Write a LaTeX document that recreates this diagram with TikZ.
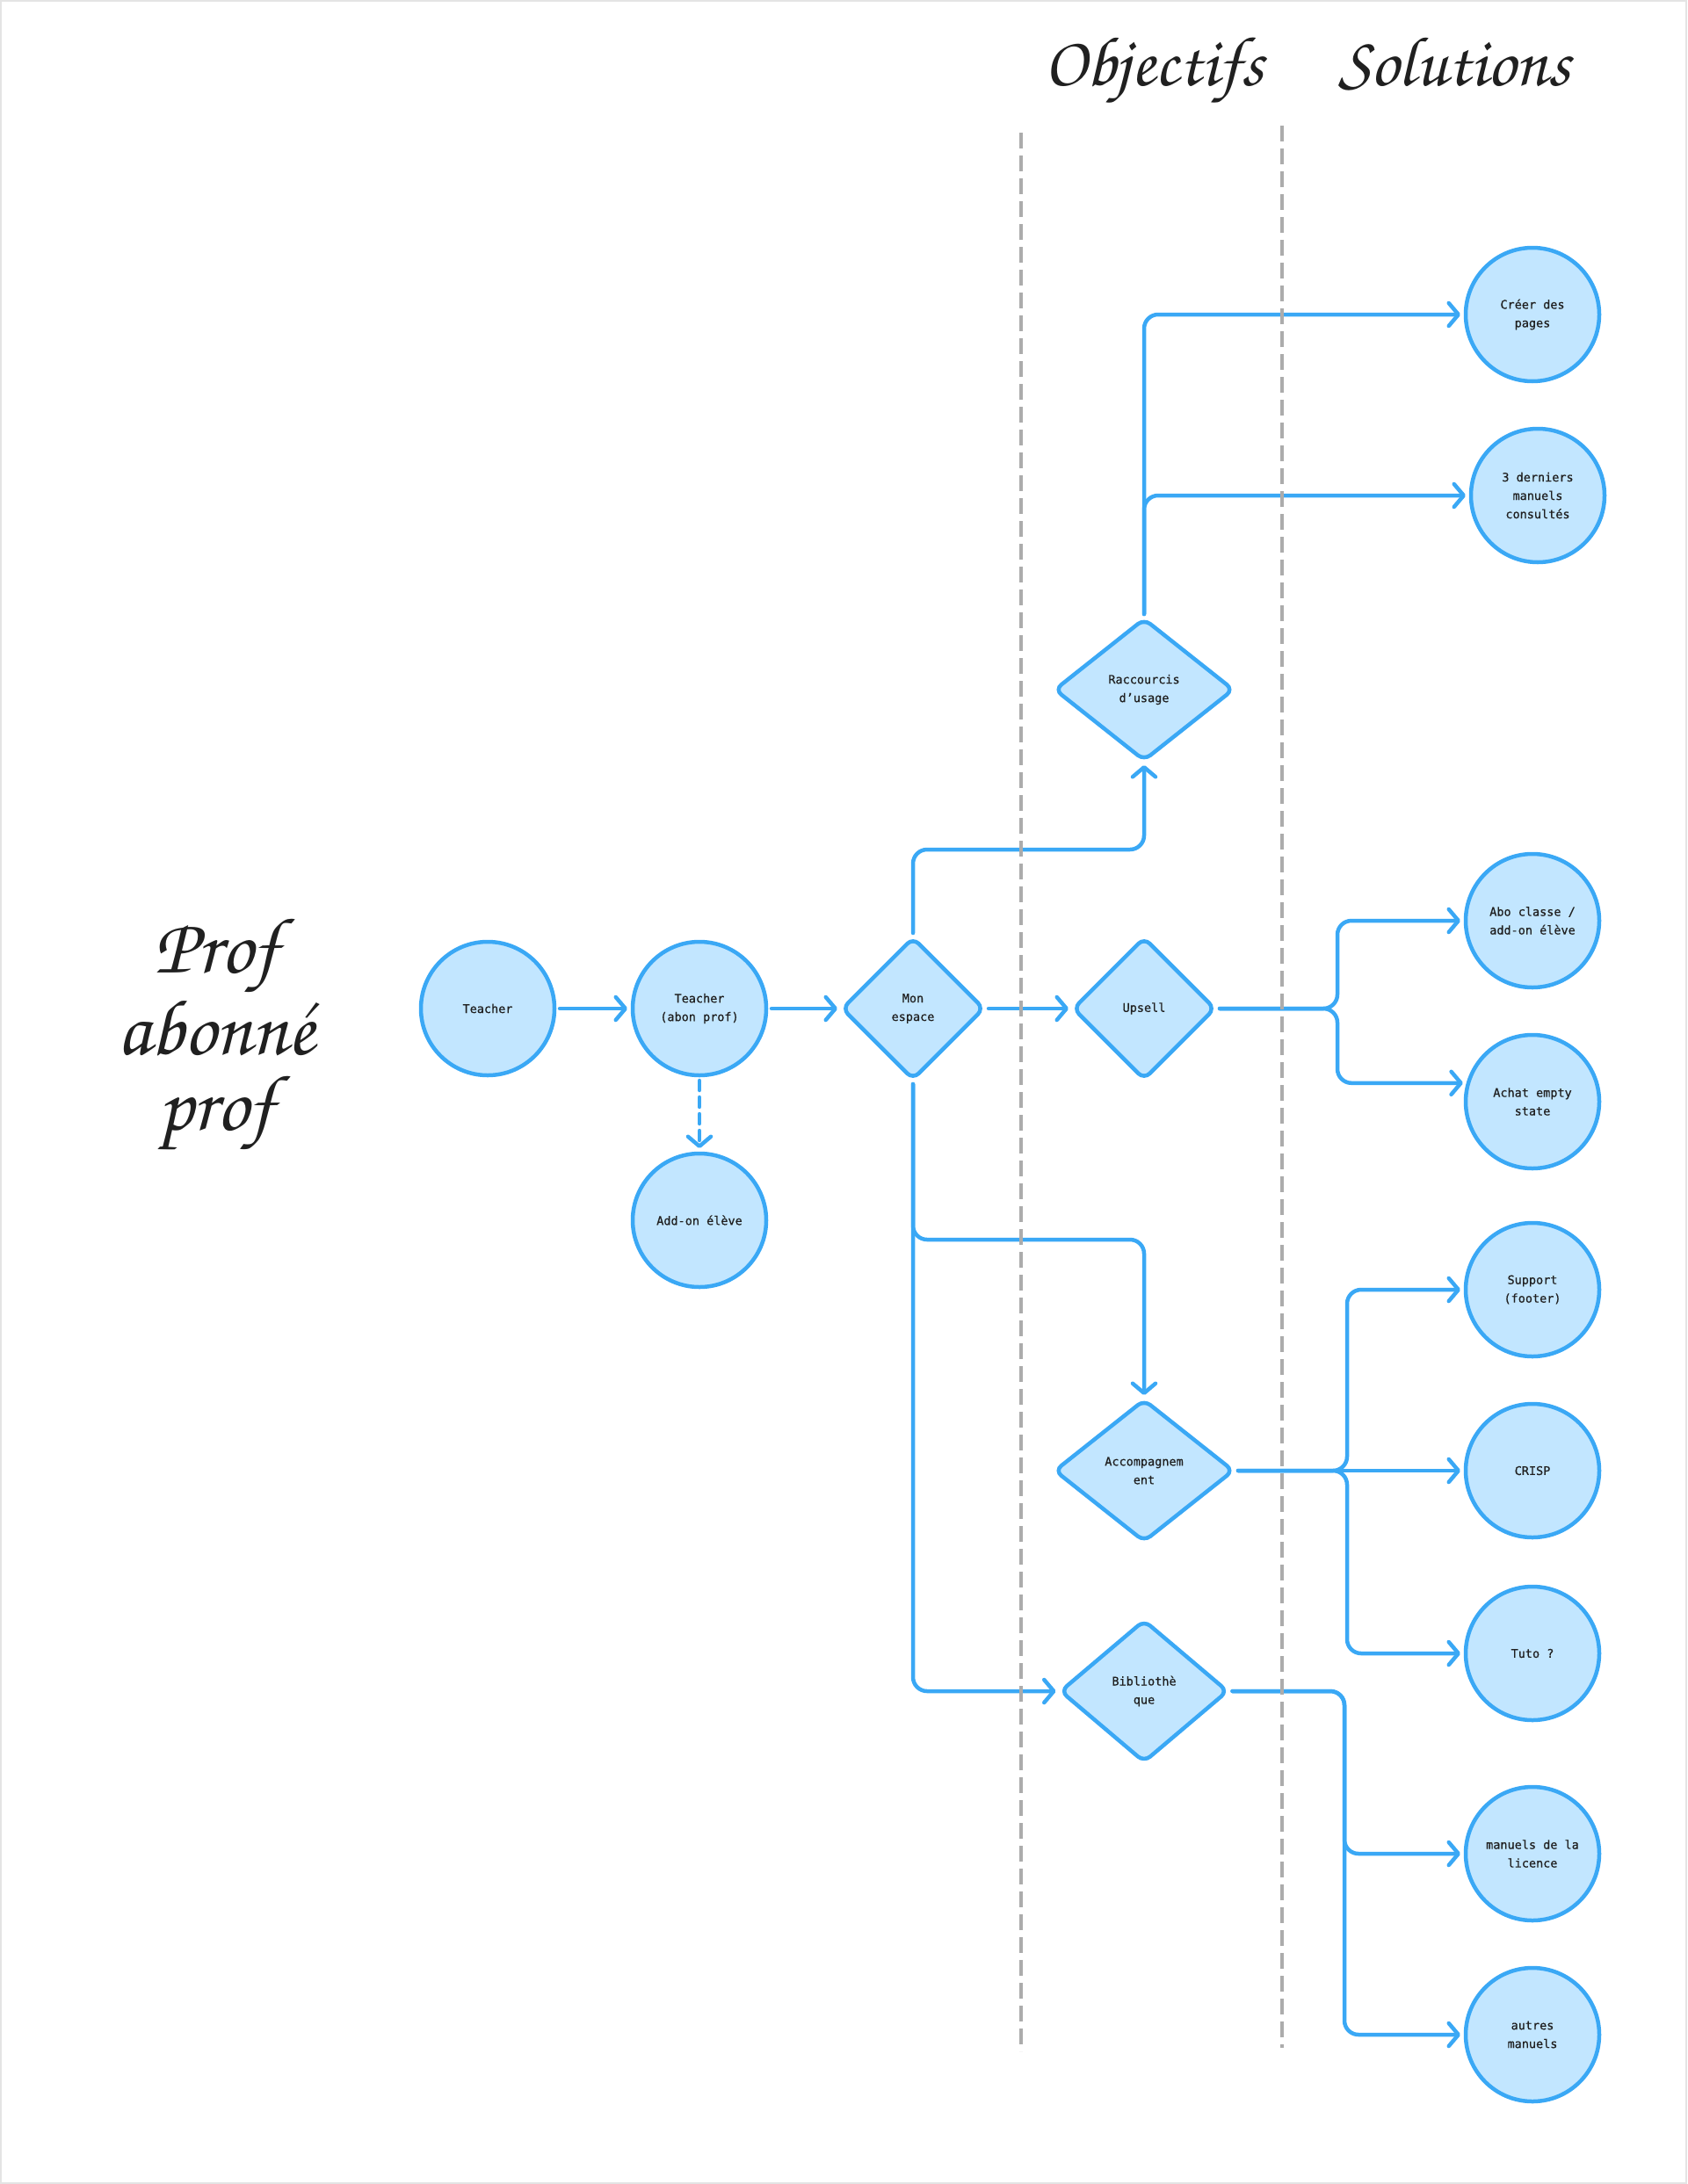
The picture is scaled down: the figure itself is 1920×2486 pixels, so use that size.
\documentclass[tikz,border=0pt]{standalone}
\usepackage[T1,TU]{fontenc}
\usepackage{fontspec}
\newfontfamily\nodefont{DejaVu Sans Mono}[FakeBold=0.6]
\usepackage{tikz}
\usepackage{xcolor}
\definecolor{linkblue}{RGB}{58,168,245}
\definecolor{fillblue}{RGB}{194,230,255}
\definecolor{lanegray}{RGB}{172,172,172}
\definecolor{framegray}{RGB}{228,228,228}
\definecolor{ink}{RGB}{32,32,32}
\usetikzlibrary{positioning, calc, shapes.geometric, arrows.meta}
\tikzstyle{Circ} = [
circle, draw=linkblue, fill=fillblue, line width=4.5pt,
minimum size=152pt, inner sep=0pt, outer sep=6pt,
align=center, text=ink,
font=\nodefont\fontsize{13.5}{21}\selectfont]
\tikzstyle{Diam} = [
diamond, draw=linkblue, fill=fillblue, line width=4.5pt,
rounded corners=9pt, minimum width=206pt, minimum height=164pt,
inner sep=0pt, outer sep=4pt,
align=center, text=ink,
font=\nodefont\fontsize{13.5}{21}\selectfont]
\tikzstyle{Arrow} = [
draw=linkblue, line width=4.5pt, line cap=round, rounded corners=16pt,
-{Straight Barb[length=11pt, width=26pt, round]}]
\tikzstyle{Lane} = [
draw=lanegray, line width=4pt, dash pattern=on 18pt off 8pt]
\tikzstyle{Hand} = [
text=ink, align=center,
font=\fontencoding{T1}\fontfamily{pzc}\fontseries{mb}\fontshape{it}\fontsize{80}{86}\selectfont]

\begin{document}
\begin{tikzpicture}[x=1pt, y=-1pt]
    \useasboundingbox (0,0) rectangle (1920,2486);
    \draw[draw=framegray, line width=2pt] (1,1) rectangle (1919,2485);

    % headings
    \node[Hand, anchor=base] (h1) at (1313,98) {Objectifs};
    \node[Hand, anchor=base] (h2) at (1655,98) {Solutions};
    \node[Hand, anchor=base, font=\fontencoding{T1}\fontfamily{pzc}\fontseries{mb}\fontshape{it}\fontsize{90}{86}\selectfont]
        (h3) at (246,1286) {Prof\\abonn\'e\\prof};

    \node[Circ] (1) at (555,1148) {Teacher};
    \node[Circ] (2) at (796,1148) {Teacher\\(abon prof)};
    \node[Circ] (3) at (796,1389) {Add-on élève};
    \node[Diam, minimum width=164pt] (4) at (1039,1148) {Mon\\espace};
    \node[Diam, minimum width=164pt] (5) at (1302,1148) {Upsell};
    \node[Diam] (6) at (1302,785) {Raccourcis\\d’usage};
    \node[Diam] (7) at (1302,1674) {Accompagnem\\ent};
    \node[Diam, minimum width=193pt] (8) at (1302,1925) {Bibliothè\\que};
    \node[Circ] (9) at (1744,358) {Créer des\\pages};
    \node[Circ] (10) at (1750,564) {3 derniers\\manuels\\consultés};
    \node[Circ] (11) at (1744,1048) {Abo classe /\\add-on élève};
    \node[Circ] (12) at (1744,1254) {Achat empty\\state};
    \node[Circ] (13) at (1744,1468) {Support\\(footer)};
    \node[Circ] (14) at (1744,1674) {CRISP};
    \node[Circ] (15) at (1744,1882) {Tuto ?};
    \node[Circ] (16) at (1744,2110) {manuels de la\\licence};
    \node[Circ] (17) at (1744,2316) {autres\\manuels};

    \coordinate (up) at (1302,967);
    \coordinate (down) at (1302,1411);
    \coordinate (s1) at (1522,0);
    \coordinate (s2) at (1533,0);
    \coordinate (s3) at (1530,0);

    \draw[Arrow] (1) -- (2);
    \draw[Arrow] (2) -- (4);
    \draw[Arrow, dash pattern=on 11pt off 8pt] (2) -- (3);
    \draw[Arrow] (4) -- (5);
    \draw[Arrow] (4.north) -- (4.north |- up) -- (up) -- (6.south);
    \draw[Arrow] (6.north) |- (9.west);
    \draw[Arrow] (6.north) |- (10.west);
    \draw[Arrow] (5.east) -- (5.east -| s1) |- (11.west);
    \draw[Arrow] (5.east) -- (5.east -| s1) |- (12.165);
    \draw[Arrow] (4.south) |- (8.west);
    \draw[Arrow] (4.south) -- (4.south |- down) -- (down) -- (7.north);
    \draw[Arrow] (7.east) -- (7.east -| s2) |- (13.west);
    \draw[Arrow] (7.east) -- (14.west);
    \draw[Arrow] (7.east) -- (7.east -| s2) |- (15.west);
    \draw[Arrow] (8.east) -- (8.east -| s3) |- (16.west);
    \draw[Arrow] (8.east) -- (8.east -| s3) |- (17.west);

    % lanes
    \draw[Lane] (1162,151) -- (1162,2335);
    \draw[Lane] (1459,143) -- (1459,2331);
\end{tikzpicture}
\end{document}
